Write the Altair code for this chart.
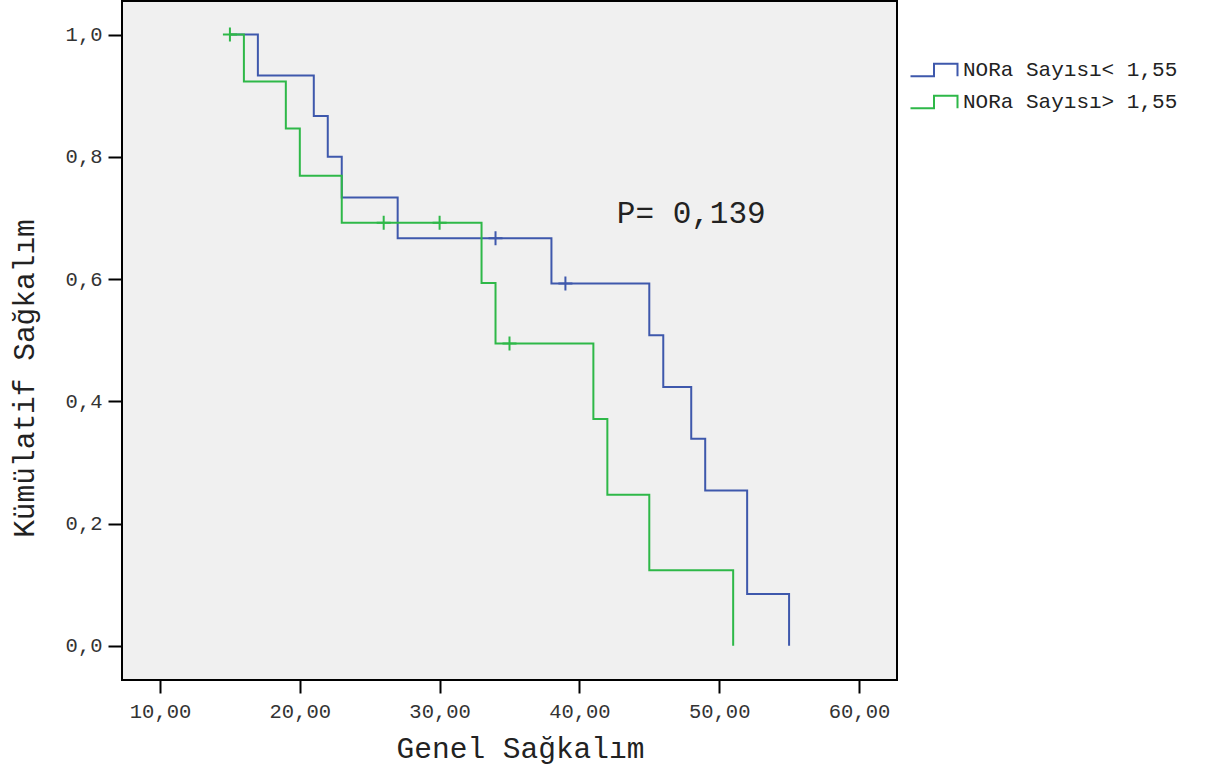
import altair as alt
import pandas as pd

GROUPS = ["NORa Sayısı< 1,55", "NORa Sayısı> 1,55"]
COLORS = ["#3e58ac", "#2eb848"]

# Kaplan-Meier steps
BLUE_T = [15, 17, 21, 22, 23, 27, 38, 45, 46, 48, 49, 52, 55]
BLUE_S = [1.0, 0.9333, 0.8667, 0.8, 0.7333, 0.6667, 0.5926, 0.508, 0.4233, 0.3387, 0.254, 0.0847, 0.0]
BLUE_CENS_T = [34, 39]
BLUE_CENS_S = [0.6667, 0.5926]

GREEN_T = [15, 16, 19, 20, 23, 33, 34, 41, 42, 45, 51]
GREEN_S = [1.0, 0.9231, 0.8462, 0.7692, 0.6923, 0.5934, 0.4945, 0.3709, 0.2473, 0.1236, 0.0]
GREEN_CENS_T = [15, 26, 30, 35]
GREEN_CENS_S = [1.0, 0.6923, 0.6923, 0.4945]

X_TICKS = [10, 20, 30, 40, 50, 60]
Y_TICKS = [0.0, 0.2, 0.4, 0.6, 0.8, 1.0]

P_TEXT = "P= 0,139"
P_X = 48.0
P_Y = 0.707

FONT = "Liberation Mono"

lines = pd.DataFrame(
    {"t": BLUE_T, "s": BLUE_S, "g": GROUPS[0]}
)
lines = pd.concat([lines, pd.DataFrame({"t": GREEN_T, "s": GREEN_S, "g": GROUPS[1]})], ignore_index=True)
lines["o"] = range(len(lines))

cens = pd.concat([
    pd.DataFrame({"t": BLUE_CENS_T, "s": BLUE_CENS_S, "g": GROUPS[0]}),
    pd.DataFrame({"t": GREEN_CENS_T, "s": GREEN_CENS_S, "g": GROUPS[1]}),
], ignore_index=True)

ptext = pd.DataFrame({"t": [P_X], "s": [P_Y], "label": [P_TEXT]})

xscale = alt.Scale(domain=[7.28, 62.72], nice=False, zero=False)
yscale = alt.Scale(domain=[-0.056, 1.055], nice=False, zero=False)

xaxis = alt.Axis(
    values=X_TICKS,
    labelExpr="replace(format(datum.value, '.2f'), '.', ',')",
    title="Genel Sağkalım",
    grid=False, domain=False,
    tickColor="black", tickWidth=2, tickSize=13,
    labelFont=FONT, labelFontSize=20.5, labelColor="#333333", labelPadding=8,
    titleFont=FONT, titleFontSize=29.5, titleFontWeight="normal", titleColor="#222222",
    titlePadding=13, titleX=398,
)
yaxis = alt.Axis(
    values=Y_TICKS,
    labelExpr="replace(format(datum.value, '.1f'), '.', ',')",
    title="Kümülatif Sağkalım",
    grid=False, domain=False,
    tickColor="black", tickWidth=2, tickSize=14,
    labelFont=FONT, labelFontSize=20.5, labelColor="#333333", labelPadding=6,
    titleFont=FONT, titleFontSize=29.5, titleFontWeight="normal", titleColor="#222222",
    titlePadding=26, titleY=377,
)

STEP_PATH = "M-2.35,0.62 L0,0.62 L0,-0.62 L2.35,-0.62 L2.35,0.62"
CROSS_PATH = "M0,-1 L0,1 M-1,0 L1,0"

legend = alt.Legend(
    orient="none", legendX=801, legendY=58, title=None,
    symbolType=STEP_PATH, symbolSize=400, symbolStrokeWidth=2,
    symbolFillColor="transparent",
    labelFont=FONT, labelFontSize=21, labelColor="#222222", labelOffset=18,
    labelLimit=0, rowPadding=10,
)

color = alt.Color("g:N", scale=alt.Scale(domain=GROUPS, range=COLORS), legend=legend)

line_layer = alt.Chart(lines).mark_line(interpolate="step-after", strokeWidth=2).encode(
    x=alt.X("t:Q", scale=xscale, axis=xaxis),
    y=alt.Y("s:Q", scale=yscale, axis=yaxis),
    color=color,
    order="o:Q",
)

cens_layer = alt.Chart(cens).mark_point(
    shape=CROSS_PATH, size=196, strokeWidth=2, filled=False, opacity=1
).encode(
    x=alt.X("t:Q", scale=xscale),
    y=alt.Y("s:Q", scale=yscale),
    color=color,
)

text_layer = alt.Chart(ptext).mark_text(
    font=FONT, fontSize=31, color="#222222", align="center", baseline="middle"
).encode(
    x=alt.X("t:Q", scale=xscale),
    y=alt.Y("s:Q", scale=yscale),
    text="label:N",
)

chart = alt.layer(line_layer, cens_layer, text_layer).properties(
    width=775, height=679,
    autosize=alt.AutoSizeParams(type="none"),
    padding={"left": 122, "top": 1, "right": 308, "bottom": 96},
    background="white",
).configure_view(
    fill="#f0f0f0", stroke="black", strokeWidth=2
)

chart.save("out.html", embed_options={"renderer": "svg", "actions": False})
